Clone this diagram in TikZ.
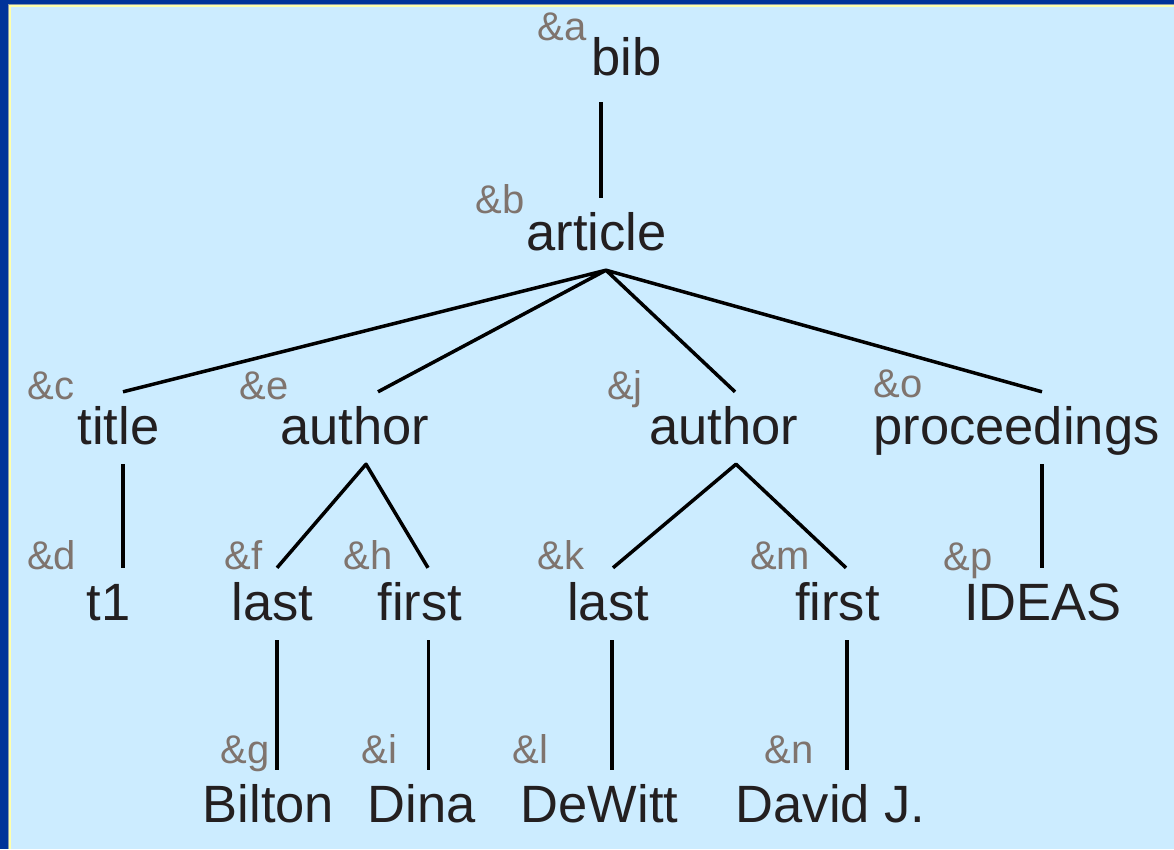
\documentclass[tikz,border=0pt]{standalone}
\usepackage{fontspec}
\setmainfont{Liberation Sans}
\definecolor{frameblue}{HTML}{003399}
\definecolor{bgblue}{HTML}{CCECFF}
\definecolor{frameyellow}{HTML}{FFFFAA}
\definecolor{framegray}{HTML}{8A9AA8}
\definecolor{txt}{HTML}{231F20}
\definecolor{lbl}{HTML}{7F746E}
\tikzset{
  main/.style={inner xsep=0pt, inner ysep=12pt, text height=40pt, text depth=8pt,
    anchor=base, font=\fontsize{52.5}{60}\selectfont, text=txt},
  tag/.style={inner sep=0pt, anchor=base, font=\fontsize{40}{46}\selectfont, text=lbl},
  edge/.style={line width=3.5pt, draw=black, line join=round}
}
\begin{document}
\begin{tikzpicture}[x=1pt,y=-1pt]
\useasboundingbox (0,0) rectangle (1174,849);
% frame and background
\fill[frameblue] (0,0) rectangle (1174,849);
\fill[framegray] (8,4) rectangle (1174,849);
\fill[frameyellow] (9,5) rectangle (1174,849);
\fill[bgblue] (11,7) rectangle (1174,849);

% main nodes
\node[main, text depth=15pt] (bib) at (626.5,75) {bib};
\node[main] (article) at (596.5,250) {article};
\node[main] (title) at (118.5,444) {title};
\node[main] (author1) at (355,444) {author};
\node[main] (author2) at (724,444) {author};
\node[main] (proc) at (1016.5,444) {proceedings};
\node[main] (t1) at (108.5,620) {t1};
\node[main] (last1) at (272.5,620) {last};
\node[main] (first1) at (420,620) {first};
\node[main] (last2) at (608,620) {last};
\node[main] (first2) at (837.5,620) {first};
\node[main] (ideas) at (1043,620) {IDEAS};
\node[main] (bilton) at (268.5,822) {Bilton};
\node[main] (dina) at (421.5,822) {Dina};
\node[main] (dewitt) at (599.5,822) {DeWitt};
\node[main] (david) at (830.5,822) {David J.};

% tags
\node[tag] (ta) at (562,40) {\&a};
\node[tag] (tb) at (500,213) {\&b};
\node[tag] (tc) at (51,399) {\&c};
\node[tag] (te) at (264,399) {\&e};
\node[tag] (tj) at (625,399) {\&j};
\node[tag] (to) at (898,397) {\&o};
\node[tag] (td) at (51.5,569) {\&d};
\node[tag] (tf) at (243.5,569) {\&f};
\node[tag] (th) at (368,569) {\&h};
\node[tag] (tk) at (561,569) {\&k};
\node[tag] (tm) at (780,569) {\&m};
\node[tag] (tp) at (968,570) {\&p};
\node[tag] (tg) at (245,763) {\&g};
\node[tag] (ti) at (379.5,763) {\&i};
\node[tag] (tl) at (530.5,763) {\&l};
\node[tag] (tn) at (789,763) {\&n};

% connectors
\draw[edge] ([xshift=-25.5pt]bib.south) -- ([xshift=4.5pt]article.north);
\draw[edge] ([xshift=4.5pt]title.north) -- ([xshift=9.5pt]article.south)
  -- ([xshift=23pt]author1.north);
\draw[edge] ([xshift=11pt]author2.north) -- ([xshift=9.5pt]article.south)
  -- ([xshift=25.5pt]proc.north);
\draw[edge] ([xshift=4.5pt]title.south) -- ([xshift=14.5pt]t1.north);
\draw[edge] ([xshift=4.5pt]last1.north) -- ([xshift=11pt]author1.south)
  -- ([xshift=8pt]first1.north);
\draw[edge] ([xshift=5pt]last2.north) -- ([xshift=12pt]author2.south)
  -- ([xshift=8.5pt]first2.north);
\draw[edge] ([xshift=25.5pt]proc.south) -- ([xshift=-1pt]ideas.north);
\draw[edge] ([xshift=4.5pt]last1.south) -- ([xshift=8.5pt]bilton.north);
\draw[edge] ([xshift=8.5pt]first1.south) -- ([xshift=7pt]dina.north);
\draw[edge] ([xshift=4pt]last2.south) -- ([xshift=12.5pt]dewitt.north);
\draw[edge] ([xshift=9.5pt]first2.south) -- ([xshift=16.5pt]david.north);
\end{tikzpicture}
\end{document}
